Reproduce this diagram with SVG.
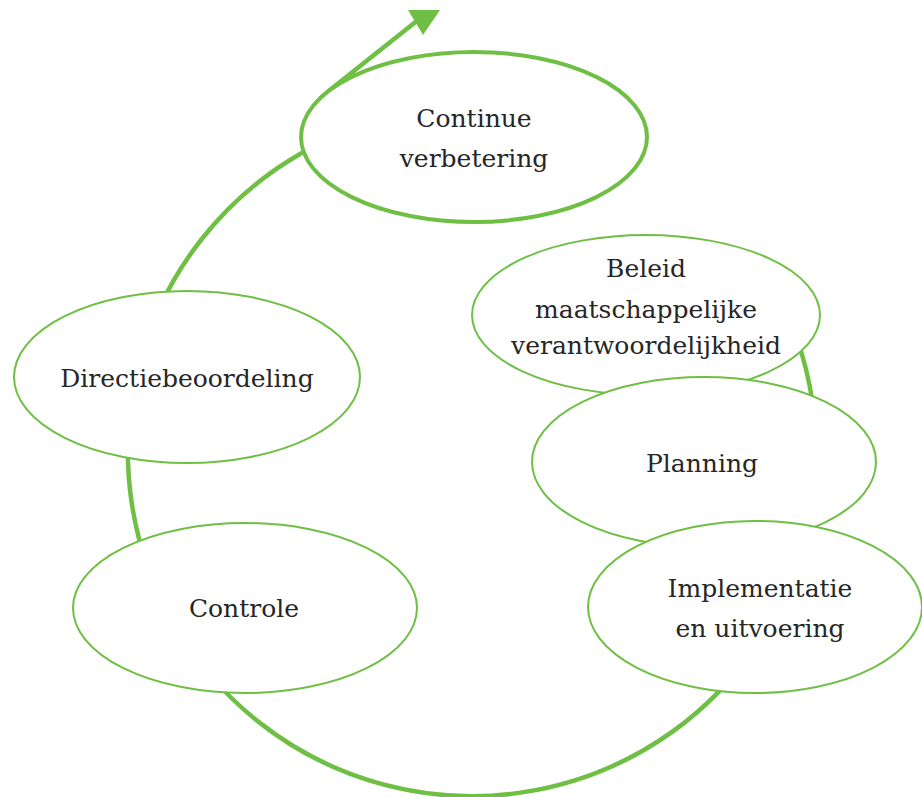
<svg xmlns="http://www.w3.org/2000/svg" width="922" height="797" viewBox="0 0 922 797">
<style>
.node{fill:#ffffff;stroke:#70BF45;stroke-width:2}
.main{fill:#ffffff;stroke:#70BF45;stroke-width:4}
.lbl{font-family:"DejaVu Serif","Liberation Serif",serif;font-size:25px;fill:#262626;text-anchor:middle}
.flow{fill:none;stroke:#70BF45;stroke-width:4.5}
</style>
<rect width="922" height="797" fill="#ffffff"/>
<g id="connectors">
<path class="flow" d="M 770 280 A 344 344 0 1 1 300 154 C 322 141 314 106 330 90 L 418 20"/>
<polygon points="408,10 440,10 423,35" fill="#70BF45"/>
</g>
<g id="n-continue">
<ellipse class="main" cx="474" cy="137" rx="173" ry="85"/>
<text class="lbl" x="474" y="127">Continue</text>
<text class="lbl" x="474" y="167">verbetering</text>
</g>
<g id="n-directie">
<ellipse class="node" cx="187" cy="377" rx="173" ry="86"/>
<text class="lbl" x="187" y="387">Directiebeoordeling</text>
</g>
<g id="n-controle">
<ellipse class="node" cx="245" cy="608" rx="172" ry="85"/>
<text class="lbl" x="244" y="617">Controle</text>
</g>
<g id="n-beleid">
<ellipse class="node" cx="646" cy="315" rx="174" ry="80"/>
<text class="lbl" x="646" y="277">Beleid</text>
<text class="lbl" x="646" y="318">maatschappelijke</text>
<text class="lbl" x="646" y="354">verantwoordelijkheid</text>
</g>
<g id="n-planning">
<ellipse class="node" cx="704" cy="462" rx="172" ry="85"/>
<text class="lbl" x="702" y="472">Planning</text>
</g>
<g id="n-implementatie">
<ellipse class="node" cx="755" cy="607" rx="167" ry="86"/>
<text class="lbl" x="760" y="597">Implementatie</text>
<text class="lbl" x="760" y="637">en uitvoering</text>
</g>
</svg>
